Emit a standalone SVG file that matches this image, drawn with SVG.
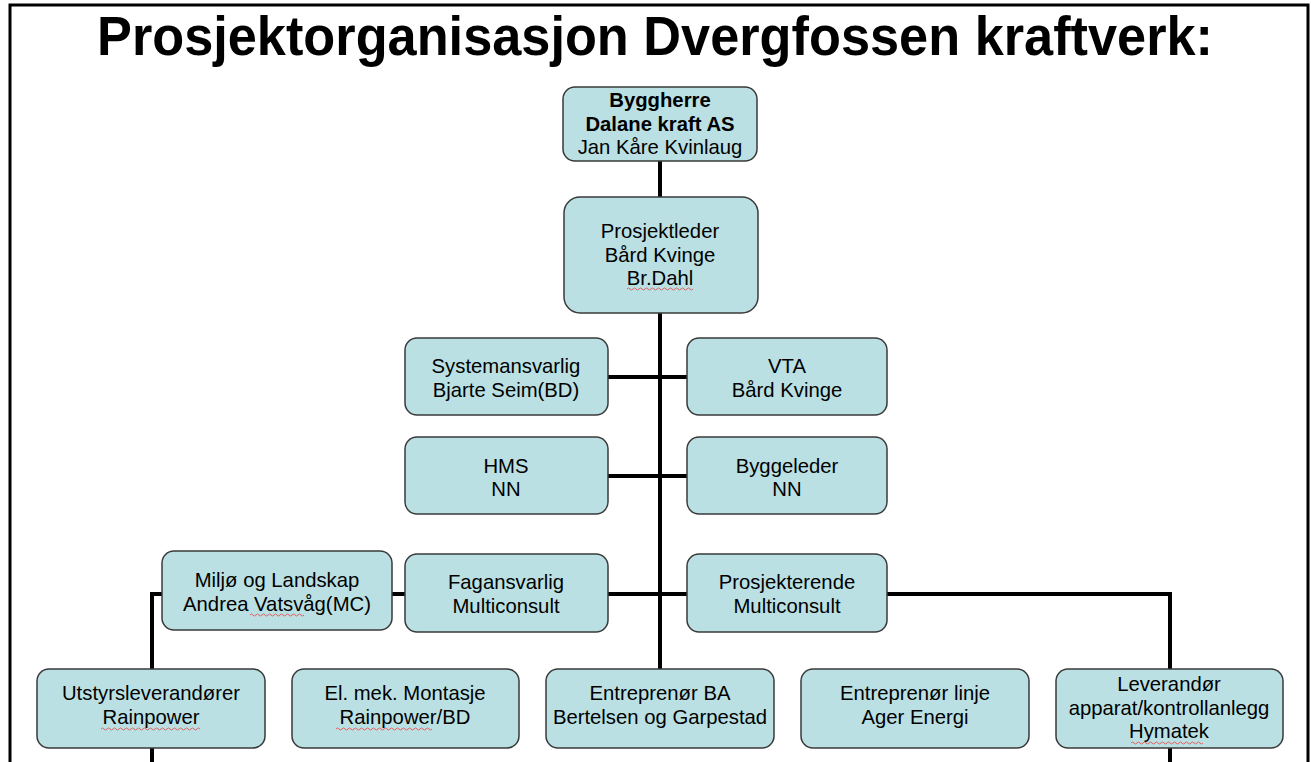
<svg xmlns="http://www.w3.org/2000/svg" width="1311" height="762" viewBox="0 0 1311 762">
<style>
.box{fill:#BBE0E3;stroke:#3a3a3a;stroke-width:1.5}
.t{font-family:"Liberation Sans",Arial,sans-serif;font-size:20.3px;fill:#000;text-anchor:middle}
.b{font-weight:bold}
.c{stroke:#000;stroke-width:4;fill:none}
.sq{stroke:#e06060;stroke-width:1;fill:none}
</style>
<rect x="0" y="0" width="1311" height="762" fill="#fff"/>
<path d="M10,770 V5 H1308 V770" fill="none" stroke="#000" stroke-width="3"/>
<text x="655" y="55" font-family="Liberation Sans,Arial,sans-serif" font-weight="bold" font-size="56" text-anchor="middle" textLength="1116" lengthAdjust="spacingAndGlyphs">Prosjektorganisasjon Dvergfossen kraftverk:</text>
<g id="connectors">
<path class="c" d="M660,160 V669"/>
<path class="c" d="M608,377 H687"/>
<path class="c" d="M608,476 H687"/>
<path class="c" d="M152,762 V594 H1170 V762"/>
</g>
<g id="byggherre"><rect class="box" x="563" y="87" width="194" height="74" rx="12"/>
<text class="t b" x="660" y="107">Byggherre</text><text class="t b" x="660" y="131">Dalane kraft AS</text><text class="t" x="660" y="154">Jan Kåre Kvinlaug</text></g>
<g id="prosjektleder"><rect class="box" x="564" y="197" width="194" height="116" rx="16"/>
<text class="t" x="660" y="238">Prosjektleder</text><text class="t" x="660" y="262">Bård Kvinge</text><text class="t" x="660" y="285">Br.Dahl</text>
<path class="sq" d="M627,289 q1.5,-2 3,0 t3,0 t3,0 t3,0 t3,0 t3,0 t3,0 t3,0 t3,0 t3,0 t3,0 t3,0 t3,0 t3,0 t3,0 t3,0 t3,0 t3,0 t3,0 t3,0 t3,0 t3,0"/></g>
<g id="systemansvarlig"><rect class="box" x="405" y="338" width="203" height="77" rx="12"/>
<text class="t" x="506" y="373">Systemansvarlig</text><text class="t" x="506" y="397">Bjarte Seim(BD)</text></g>
<g id="vta"><rect class="box" x="687" y="338" width="200" height="77" rx="12"/>
<text class="t" x="787" y="373">VTA</text><text class="t" x="787" y="397">Bård Kvinge</text></g>
<g id="hms"><rect class="box" x="405" y="437" width="203" height="77" rx="12"/>
<text class="t" x="506" y="473">HMS</text><text class="t" x="506" y="496">NN</text></g>
<g id="byggeleder"><rect class="box" x="687" y="437" width="200" height="77" rx="12"/>
<text class="t" x="787" y="473">Byggeleder</text><text class="t" x="787" y="496">NN</text></g>
<g id="miljo"><rect class="box" x="162" y="551" width="230" height="79" rx="12"/>
<text class="t" x="277" y="587">Miljø og Landskap</text><text class="t" x="277" y="611">Andrea Vatsvåg(MC)</text>
<path class="sq" d="M250,615 q1.5,-2 3,0 t3,0 t3,0 t3,0 t3,0 t3,0 t3,0 t3,0 t3,0 t3,0 t3,0 t3,0 t3,0 t3,0 t3,0 t3,0 t3,0 t3,0"/></g>
<g id="fagansvarlig"><rect class="box" x="405" y="554" width="203" height="78" rx="12"/>
<text class="t" x="506" y="589">Fagansvarlig</text><text class="t" x="506" y="613">Multiconsult</text></g>
<g id="prosjekterende"><rect class="box" x="687" y="554" width="200" height="78" rx="12"/>
<text class="t" x="787" y="589">Prosjekterende</text><text class="t" x="787" y="613">Multiconsult</text></g>
<g id="utstyr"><rect class="box" x="37" y="669" width="228" height="79" rx="12"/>
<text class="t" x="151" y="700">Utstyrsleverandører</text><text class="t" x="151" y="724">Rainpower</text>
<path class="sq" d="M101,729 q1.5,-2 3,0 t3,0 t3,0 t3,0 t3,0 t3,0 t3,0 t3,0 t3,0 t3,0 t3,0 t3,0 t3,0 t3,0 t3,0 t3,0 t3,0 t3,0 t3,0 t3,0 t3,0 t3,0 t3,0 t3,0 t3,0 t3,0 t3,0 t3,0 t3,0 t3,0 t3,0 t3,0 t3,0"/></g>
<g id="elmek"><rect class="box" x="292" y="669" width="227" height="79" rx="12"/>
<text class="t" x="405" y="700">El. mek. Montasje</text><text class="t" x="405" y="724">Rainpower/BD</text>
<path class="sq" d="M336,729 q1.5,-2 3,0 t3,0 t3,0 t3,0 t3,0 t3,0 t3,0 t3,0 t3,0 t3,0 t3,0 t3,0 t3,0 t3,0 t3,0 t3,0 t3,0 t3,0 t3,0 t3,0 t3,0 t3,0 t3,0 t3,0 t3,0 t3,0 t3,0 t3,0 t3,0 t3,0 t3,0 t3,0"/></g>
<g id="entreprenor-ba"><rect class="box" x="546" y="669" width="228" height="79" rx="12"/>
<text class="t" x="660" y="700">Entreprenør BA</text><text class="t" x="660" y="724">Bertelsen og Garpestad</text></g>
<g id="entreprenor-linje"><rect class="box" x="801" y="669" width="228" height="79" rx="12"/>
<text class="t" x="915" y="700">Entreprenør linje</text><text class="t" x="915" y="724">Ager Energi</text></g>
<g id="leverandor"><rect class="box" x="1056" y="669" width="227" height="79" rx="12"/>
<text class="t" x="1169" y="691">Leverandør</text><text class="t" x="1169" y="715">apparat/kontrollanlegg</text><text class="t" x="1169" y="738">Hymatek</text>
<path class="sq" d="M1131,743 q1.5,-2 3,0 t3,0 t3,0 t3,0 t3,0 t3,0 t3,0 t3,0 t3,0 t3,0 t3,0 t3,0 t3,0 t3,0 t3,0 t3,0 t3,0 t3,0 t3,0 t3,0 t3,0 t3,0 t3,0 t3,0"/></g>
</svg>
